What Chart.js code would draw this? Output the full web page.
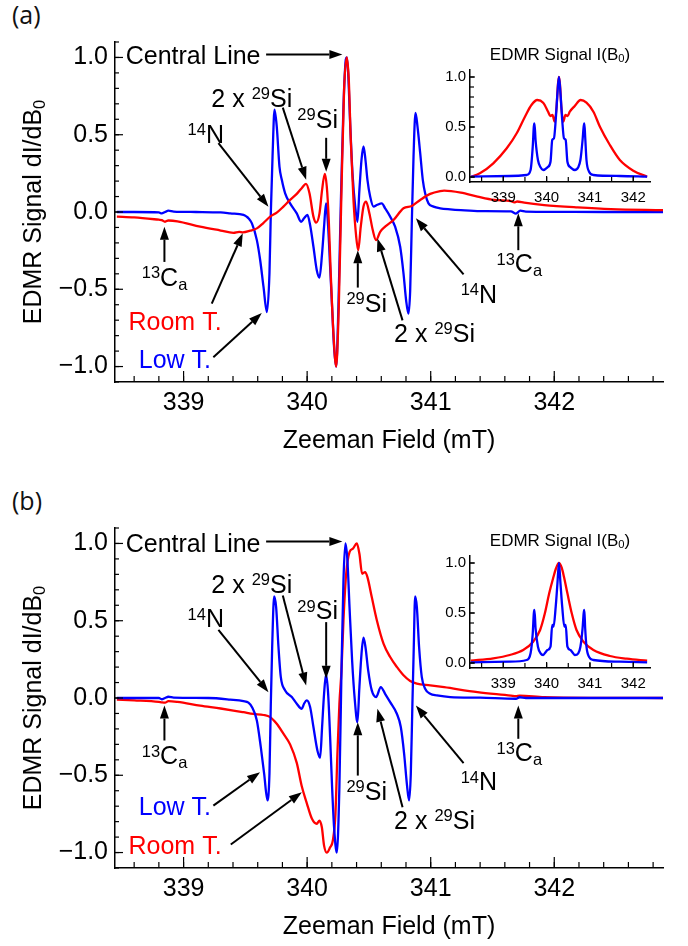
<!DOCTYPE html>
<html>
<head>
<meta charset="utf-8">
<script src="https://cdn.jsdelivr.net/npm/chart.js@4.4.1/dist/chart.umd.min.js"></script>
<style>
  body { margin: 0; background: #fff; }
  #wrap { position: relative; width: 688px; height: 946px; overflow: hidden; }
  #wrap canvas { position: absolute; }
  .tag { position: absolute; font: 25px "Open Sans", sans-serif; color: #111; line-height: 1; }
</style>
</head>
<body>
<div id="wrap">
  <div class="tag" style="left:12px;top:2px">(a)</div>
  <div class="tag" style="left:12px;top:488px">(b)</div>
  <canvas id="mainA" width="688" height="486" style="left:0;top:0"></canvas>
  <canvas id="mainB" width="688" height="460" style="left:0;top:486px"></canvas>
  <canvas id="insetA" width="240" height="190" style="left:420px;top:30px"></canvas>
  <canvas id="insetB" width="240" height="190" style="left:420px;top:516px"></canvas>
</div>
<script>
// ---- data: derivative spectra dI/dB0, panel (a) ----
const aLowB = [338.46, 338.6, 338.8, 338.823, 338.85, 338.877, 338.92, 339.1, 339.3, 339.377, 339.485, 339.51, 339.525, 339.553, 339.593, 339.62, 339.647, 339.674, 339.695, 339.706, 339.72, 339.736, 339.754, 339.776, 339.795, 339.822, 339.862, 339.916, 339.951, 339.975, 340.002, 340.024, 340.051, 340.078, 340.1, 340.121, 340.137, 340.153, 340.17, 340.186, 340.202, 340.218, 340.235, 340.253, 340.272, 340.294, 340.313, 340.321, 340.332, 340.348, 340.367, 340.389, 340.407, 340.423, 340.44, 340.456, 340.472, 340.488, 340.51, 340.537, 340.564, 340.604, 340.631, 340.672, 340.712, 340.753, 340.78, 340.801, 340.82, 340.834, 340.847, 340.861, 340.877, 340.893, 340.915, 340.936, 340.955, 340.982, 341.023, 341.077, 341.158, 341.244, 341.4, 341.649, 341.69, 341.725, 341.77, 342.0, 342.4, 342.88];
const aLowS = [0, 0, -0.003, -0.009, 0, 0.009, 0.003, 0, -0.003, -0.009, -0.019, -0.03, -0.04, -0.074, -0.182, -0.312, -0.485, -0.647, -0.398, -0.009, 0.359, 0.662, 0.554, 0.294, 0.208, 0.121, 0.056, -0.009, -0.063, -0.041, -0.019, -0.084, -0.225, -0.377, -0.424, -0.268, -0.095, 0.056, -0.095, -0.355, -0.615, -0.874, -1.0, -0.615, 0.035, 0.684, 0.987, 1.0, 0.9, 0.576, 0.251, 0.035, -0.063, 0.143, 0.338, 0.424, 0.338, 0.208, 0.1, 0.035, 0.045, 0.056, 0.024, -0.03, -0.095, -0.225, -0.398, -0.571, -0.658, -0.506, -0.074, 0.359, 0.641, 0.554, 0.381, 0.208, 0.121, 0.056, 0.035, 0.024, 0.017, 0.012, 0.006, 0.004, -0.01, 0.009, 0.003, 0.001, 0, 0];
const aRoomB = [338.46, 338.6, 338.8, 338.823, 338.85, 338.877, 338.95, 339.134, 339.3, 339.403, 339.45, 339.48, 339.539, 339.593, 339.647, 339.701, 339.754, 339.808, 339.862, 339.916, 339.956, 339.991, 340.019, 340.051, 340.073, 340.1, 340.121, 340.143, 340.159, 340.175, 340.191, 340.213, 340.235, 340.256, 340.278, 340.299, 340.321, 340.337, 340.353, 340.375, 340.397, 340.413, 340.434, 340.456, 340.477, 340.504, 340.531, 340.558, 340.591, 340.631, 340.699, 340.78, 340.847, 340.915, 340.996, 341.077, 341.109, 341.244, 341.379, 341.514, 341.65, 341.676, 341.7, 341.757, 341.919, 342.189, 342.459, 342.88];
const aRoomS = [-0.03, -0.035, -0.05, -0.052, -0.063, -0.055, -0.06, -0.095, -0.12, -0.135, -0.128, -0.132, -0.121, -0.106, -0.07, -0.03, -0.004, 0.035, 0.078, 0.117, 0.154, 0.182, 0.121, -0.03, -0.069, -0.009, 0.143, 0.247, 0.165, -0.052, -0.398, -0.788, -1.0, -0.615, 0.143, 0.792, 1.0, 0.857, 0.468, 0.078, -0.16, -0.247, -0.095, 0.035, 0.067, -0.009, -0.117, -0.182, -0.128, -0.095, -0.052, 0.024, 0.039, 0.078, 0.117, 0.135, 0.138, 0.125, 0.099, 0.078, 0.07, 0.062, 0.068, 0.06, 0.045, 0.03, 0.019, 0.012];

// ---- panel (b) ----
const bLowB = [338.46, 338.8, 338.823, 338.85, 338.877, 338.92, 339.2, 339.377, 339.485, 339.525, 339.553, 339.593, 339.625, 339.652, 339.679, 339.695, 339.706, 339.717, 339.733, 339.749, 339.768, 339.787, 339.822, 339.876, 339.916, 339.956, 339.975, 339.997, 340.024, 340.051, 340.083, 340.105, 340.121, 340.137, 340.153, 340.17, 340.186, 340.202, 340.218, 340.24, 340.261, 340.278, 340.294, 340.31, 340.326, 340.343, 340.364, 340.386, 340.407, 340.423, 340.44, 340.456, 340.472, 340.494, 340.523, 340.558, 340.596, 340.631, 340.672, 340.726, 340.758, 340.785, 340.807, 340.825, 340.839, 340.852, 340.863, 340.874, 340.888, 340.906, 340.928, 340.955, 340.996, 341.05, 341.158, 341.4, 341.69, 341.72, 341.77, 342.88];
const bLowS = [0, 0, -0.008, 0, 0.008, 0.002, 0, -0.01, -0.02, -0.03, -0.058, -0.145, -0.318, -0.49, -0.663, -0.49, -0.037, 0.33, 0.657, 0.588, 0.33, 0.135, 0.049, 0.006, -0.037, -0.07, -0.037, -0.016, -0.058, -0.188, -0.339, -0.386, -0.188, 0.027, 0.152, 0.027, -0.253, -0.577, -0.836, -1.0, -0.577, 0.179, 0.762, 1.0, 0.89, 0.588, 0.243, -0.016, -0.157, 0.071, 0.286, 0.39, 0.33, 0.179, 0.049, 0.006, 0.071, 0.027, -0.027, -0.102, -0.188, -0.361, -0.555, -0.663, -0.49, -0.037, 0.33, 0.657, 0.588, 0.33, 0.135, 0.06, 0.027, 0.017, 0.006, 0.002, -0.005, 0.005, 0, 0];
const bRoomB = [338.46, 338.6, 338.8, 338.823, 338.85, 338.877, 338.95, 339.134, 339.3, 339.403, 339.485, 339.565, 339.647, 339.701, 339.754, 339.808, 339.862, 339.916, 339.956, 339.997, 340.038, 340.078, 340.1, 340.119, 340.137, 340.159, 340.186, 340.208, 340.229, 340.245, 340.261, 340.278, 340.294, 340.316, 340.343, 340.37, 340.402, 340.423, 340.445, 340.469, 340.488, 340.523, 340.564, 340.618, 340.672, 340.726, 340.78, 340.834, 340.888, 340.996, 341.109, 341.379, 341.649, 341.69, 341.72, 341.919, 342.4, 342.88];
const bRoomS = [-0.01, -0.015, -0.025, -0.028, -0.03, -0.02, -0.025, -0.049, -0.068, -0.081, -0.092, -0.103, -0.11, -0.124, -0.167, -0.231, -0.3, -0.42, -0.57, -0.68, -0.78, -0.814, -0.793, -0.836, -0.955, -1.0, -0.966, -0.922, -0.75, -0.361, -0.037, 0.179, 0.503, 0.804, 0.944, 0.966, 1.0, 0.933, 0.804, 0.815, 0.782, 0.653, 0.503, 0.352, 0.265, 0.201, 0.147, 0.11, 0.093, 0.082, 0.07, 0.038, 0.016, 0.012, 0.016, 0.005, 0.001, 0];

// ---- insets: integrated signal I(B0) ----
const aLowIB = [338.25, 339.15, 339.54, 339.63, 339.68, 339.705, 339.72, 339.745, 339.8, 339.86, 339.92, 340.02, 340.09, 340.13, 340.17, 340.21, 340.25, 340.285, 340.32, 340.36, 340.4, 340.44, 340.48, 340.55, 340.65, 340.73, 340.78, 340.83, 340.855, 340.87, 340.89, 340.92, 340.98, 341.08, 341.69, 342.32];
const aLowI = [0.003, 0.01, 0.02, 0.07, 0.303, 0.503, 0.537, 0.37, 0.17, 0.097, 0.07, 0.097, 0.153, 0.37, 0.387, 0.57, 0.837, 1.0, 0.837, 0.57, 0.387, 0.37, 0.153, 0.097, 0.07, 0.097, 0.17, 0.37, 0.503, 0.537, 0.403, 0.17, 0.053, 0.02, 0.01, 0.003];
const aRoomIB = [338.25, 338.46, 338.77, 339.08, 339.31, 339.5, 339.65, 339.785, 339.92, 340.035, 340.085, 340.135, 340.185, 340.23, 340.26, 340.285, 340.31, 340.34, 340.385, 340.435, 340.485, 340.535, 340.65, 340.785, 340.92, 341.08, 341.23, 341.46, 341.69, 342.0, 342.32];
const aRoomI = [0, 0.037, 0.137, 0.287, 0.437, 0.603, 0.72, 0.77, 0.743, 0.653, 0.61, 0.62, 0.553, 0.7, 0.92, 1.0, 0.92, 0.7, 0.553, 0.62, 0.61, 0.653, 0.71, 0.77, 0.743, 0.653, 0.503, 0.32, 0.17, 0.063, 0.003];
const bLowIB = [338.25, 339.15, 339.54, 339.63, 339.68, 339.705, 339.72, 339.745, 339.8, 339.86, 339.92, 339.98, 340.02, 340.09, 340.13, 340.16, 340.21, 340.25, 340.285, 340.32, 340.36, 340.41, 340.44, 340.48, 340.55, 340.59, 340.65, 340.73, 340.78, 340.83, 340.855, 340.87, 340.89, 340.92, 340.98, 341.08, 341.69, 342.32];
const bLowI = [0.007, 0.013, 0.03, 0.097, 0.297, 0.497, 0.53, 0.347, 0.163, 0.097, 0.08, 0.11, 0.13, 0.163, 0.38, 0.363, 0.563, 0.797, 1.0, 0.797, 0.563, 0.363, 0.38, 0.163, 0.13, 0.11, 0.08, 0.097, 0.163, 0.347, 0.497, 0.53, 0.347, 0.163, 0.06, 0.03, 0.013, 0.007];
const bRoomIB = [338.25, 338.77, 339.15, 339.46, 339.69, 339.85, 339.96, 340.06, 340.15, 340.22, 340.285, 340.35, 340.4, 340.48, 340.58, 340.69, 340.85, 341.08, 341.46, 341.85, 342.32];
const bRoomI = [0.023, 0.047, 0.08, 0.13, 0.213, 0.33, 0.497, 0.697, 0.847, 0.95, 1.0, 0.95, 0.863, 0.697, 0.497, 0.33, 0.213, 0.13, 0.07, 0.043, 0.023];

// ---- tick labels ----
const fieldTicks = [339, 340, 341, 342];
const signalTicks = [-1, -0.5, 0, 0.5, 1];
const insetTicks = [0, 0.5, 1];

const FONT = '"Liberation Sans", Arial, sans-serif';
const RED = '#ff0000', BLUE = '#0000ff';

function pts(xs, ys) { return xs.map((x, i) => ({ x: x, y: ys[i] })); }
function fmt(v) { return v.toFixed(1).replace('-', '\u2212'); }
function range(a, b, s) { const r = []; for (let v = a; v <= b + 1e-9; v += s) r.push(+v.toFixed(3)); return r; }

// rich text: parts = [[text, ''|'sup'|'sub'], ...]; (cx, cy) = centre of the capitals
function drawRich(ctx, parts, cx, cy, size, color) {
    const small = size * 0.66;
    let w = 0;
    parts.forEach(p => {
        ctx.font = (p[1] ? small : size) + 'px ' + FONT;
        w += ctx.measureText(p[0]).width;
    });
    let x = cx - w / 2;
    const base = cy + size * 0.358;
    ctx.fillStyle = color;
    ctx.textAlign = 'left';
    ctx.textBaseline = 'alphabetic';
    parts.forEach(p => {
        ctx.font = (p[1] ? small : size) + 'px ' + FONT;
        const dy = p[1] === 'sup' ? -size * 0.3 : p[1] === 'sub' ? size * 0.15 : 0;
        ctx.fillText(p[0], x, base + dy);
        x += ctx.measureText(p[0]).width;
    });
}

function arrow(ctx, x0, y0, x1, y1) {
    const ang = Math.atan2(y1 - y0, x1 - x0), L = 13, W = 4.5;
    const bx = x1 - L * Math.cos(ang), by = y1 - L * Math.sin(ang);
    ctx.beginPath(); ctx.moveTo(x0, y0); ctx.lineTo(bx, by); ctx.stroke();
    ctx.beginPath();
    ctx.moveTo(x1, y1);
    ctx.lineTo(bx + W * Math.sin(ang), by - W * Math.cos(ang));
    ctx.lineTo(bx - W * Math.sin(ang), by + W * Math.cos(ang));
    ctx.closePath(); ctx.fill();
}

// inward ticks, axis titles and the arrow labels
function decor(cfg) {
    return {
        id: 'decor',
        afterDatasetsDraw(chart) {
            const { ctx, chartArea: a, scales: { x, y } } = chart;
            ctx.save();
            ctx.strokeStyle = '#000';
            ctx.lineWidth = 1.2;
            const tick = (list, len, horiz) => list.forEach(v => {
                ctx.beginPath();
                if (horiz) { const p = x.getPixelForValue(v); ctx.moveTo(p, a.bottom); ctx.lineTo(p, a.bottom - len); }
                else { const p = y.getPixelForValue(v); ctx.moveTo(a.left, p); ctx.lineTo(a.left + len, p); }
                ctx.stroke();
            });
            tick(cfg.xMinor, cfg.xMinLen, true);
            tick(cfg.xMajor, cfg.xMajLen, true);
            tick(cfg.yMinor, cfg.yMinLen, false);
            tick(cfg.yMajor, cfg.yMajLen, false);

            if (cfg.xTitle) drawRich(ctx, cfg.xTitle, (a.left + a.right) / 2, a.bottom + cfg.xTitleGap, cfg.size, '#000');
            if (cfg.yTitle) {
                ctx.save();
                ctx.translate(cfg.yTitleX, (a.top + a.bottom) / 2);
                ctx.rotate(-Math.PI / 2);
                drawRich(ctx, cfg.yTitle, 0, 0, cfg.size, '#000');
                ctx.restore();
            }
            if (cfg.title) drawRich(ctx, cfg.title, (a.left + a.right) / 2, a.top - cfg.titleGap, cfg.titleSize, '#000');

            ctx.strokeStyle = '#000';
            ctx.fillStyle = '#000';
            ctx.lineWidth = 2;
            (cfg.notes || []).forEach(n => {
                drawRich(ctx, n.t, x.getPixelForValue(n.x), y.getPixelForValue(n.y), cfg.size, n.c || '#000');
                if (n.ar) {
                    ctx.fillStyle = '#000';
                    arrow(ctx, x.getPixelForValue(n.ar[0]), y.getPixelForValue(n.ar[1]),
                        x.getPixelForValue(n.ar[2]), y.getPixelForValue(n.ar[3]));
                }
            });
            ctx.restore();
        }
    };
}

function line(data, color) {
    return { data: data, borderColor: color, borderWidth: 2.3, pointRadius: 0, fill: false, cubicInterpolationMode: 'monotone' };
}

function mainChart(id, H, sets, notes) {
    new Chart(document.getElementById(id), {
        type: 'line',
        data: { datasets: sets },
        options: {
            responsive: false, animation: false, events: [],
            layout: { padding: { left: 0, top: 42, right: 25, bottom: 0 } },
            plugins: { legend: { display: false }, tooltip: { enabled: false } },
            scales: {
                x: {
                    type: 'linear', min: 338.445, max: 342.88,
                    grid: { display: false, drawTicks: false },
                    border: { color: '#000', width: 1.5 },
                    afterBuildTicks: s => { s.ticks = fieldTicks.map(v => ({ value: v })); },
                    afterFit: s => { s.height = H - 382; },
                    ticks: { color: '#000', font: { family: FONT, size: 25 }, padding: 6, maxRotation: 0, autoSkip: false, callback: v => String(v) }
                },
                y: {
                    type: 'linear', min: -1.1, max: 1.1,
                    grid: { display: false, drawTicks: false },
                    border: { color: '#000', width: 1.5 },
                    afterBuildTicks: s => { s.ticks = signalTicks.map(v => ({ value: v })); },
                    afterFit: s => { s.width = 115; },
                    ticks: { color: '#000', font: { family: FONT, size: 25 }, padding: 7, autoSkip: false, callback: v => fmt(v) }
                }
            }
        },
        plugins: [decor({
            size: 25,
            xMajor: fieldTicks, xMajLen: 11, xMinor: range(338.6, 342.8, 0.2), xMinLen: 6,
            yMajor: signalTicks, yMajLen: 8, yMinor: range(-1.1, 1.1, 0.1), yMinLen: 4,
            xTitle: [['Zeeman Field (mT)', '']], xTitleGap: 57,
            yTitle: [['EDMR Signal dI/dB', ''], ['0', 'sub']], yTitleX: 32.5,
            notes: notes
        })]
    });
}

function insetChart(id, sets) {
    new Chart(document.getElementById(id), {
        type: 'line',
        data: { datasets: sets },
        options: {
            responsive: false, animation: false, events: [],
            layout: { padding: { left: 0, top: 40, right: 10, bottom: 0 } },
            plugins: { legend: { display: false }, tooltip: { enabled: false } },
            scales: {
                x: {
                    type: 'linear', min: 338.232, max: 342.386,
                    grid: { display: false, drawTicks: false },
                    border: { color: '#000', width: 1.5 },
                    afterBuildTicks: s => { s.ticks = fieldTicks.map(v => ({ value: v })); },
                    afterFit: s => { s.height = 38; },
                    ticks: { color: '#000', font: { family: FONT, size: 15 }, padding: 7, maxRotation: 0, autoSkip: false, callback: v => String(v) }
                },
                y: {
                    type: 'linear', min: -0.05, max: 1.07,
                    grid: { display: false, drawTicks: false },
                    border: { color: '#000', width: 1.5 },
                    afterBuildTicks: s => { s.ticks = insetTicks.map(v => ({ value: v })); },
                    afterFit: s => { s.width = 50; },
                    ticks: { color: '#000', font: { family: FONT, size: 15 }, padding: 4, autoSkip: false, callback: v => v.toFixed(1) }
                }
            }
        },
        plugins: [decor({
            size: 15,
            xMajor: fieldTicks, xMajLen: 6, xMinor: range(338.5, 342, 0.5), xMinLen: 5,
            yMajor: insetTicks, yMajLen: 5, yMinor: range(0, 1, 0.1), yMinLen: 4,
            title: [['EDMR Signal I(B', ''], ['0', 'sub'], [')', '']], titleGap: 16.5, titleSize: 17
        })]
    });
}

const sup = (s) => [s, 'sup'];
const notesA = [
    { t: [['Central Line', '']], x: 339.077, y: 1.013, ar: [339.668, 1.019, 340.285, 1.019] },
    { t: [['2 x ', ''], sup('29'), ['Si', '']], x: 339.552, y: 0.738, ar: [339.803, 0.675, 339.992, 0.208] },
    { t: [sup('29'), ['Si', '']], x: 340.085, y: 0.603, ar: [340.154, 0.48, 340.154, 0.26] },
    { t: [sup('14'), ['N', '']], x: 339.18, y: 0.506, ar: [339.282, 0.446, 339.687, 0.034] },
    { t: [sup('13'), ['C', ''], ['a', 'sub']], x: 338.846, y: -0.42, ar: [338.845, -0.323, 338.845, -0.095] },
    { t: [['Room T.', '']], x: 338.931, y: -0.706, c: RED, ar: [339.228, -0.593, 339.479, -0.138] },
    { t: [['Low T.', '']], x: 338.93, y: -0.95, c: BLUE, ar: [339.241, -0.94, 339.633, -0.654] },
    { t: [sup('29'), ['Si', '']], x: 340.482, y: -0.586, ar: [340.41, -0.489, 340.41, -0.247] },
    { t: [['2 x ', ''], sup('29'), ['Si', '']], x: 341.031, y: -0.782, ar: [340.772, -0.701, 340.569, -0.171] },
    { t: [sup('14'), ['N', '']], x: 341.39, y: -0.53, ar: [341.266, -0.403, 340.88, -0.041] },
    { t: [sup('13'), ['C', ''], ['a', 'sub']], x: 341.717, y: -0.331, ar: [341.709, -0.247, 341.709, -0.008] }
];
const notesB = [
    { t: [['Central Line', '']], x: 339.077, y: 1.003, ar: [339.668, 1.013, 340.285, 1.013] },
    { t: [['2 x ', ''], sup('29'), ['Si', '']], x: 339.552, y: 0.739, ar: [339.803, 0.663, 339.992, 0.081] },
    { t: [sup('29'), ['Si', '']], x: 340.085, y: 0.566, ar: [340.154, 0.491, 340.154, 0.124] },
    { t: [sup('14'), ['N', '']], x: 339.18, y: 0.515, ar: [339.282, 0.441, 339.687, 0.038] },
    { t: [sup('13'), ['C', ''], ['a', 'sub']], x: 338.846, y: -0.37, ar: [338.845, -0.275, 338.845, -0.049] },
    { t: [['Low T.', '']], x: 338.93, y: -0.7, c: BLUE, ar: [339.241, -0.696, 339.619, -0.48] },
    { t: [['Room T.', '']], x: 338.931, y: -0.95, c: RED, ar: [339.382, -0.948, 339.957, -0.61] },
    { t: [sup('29'), ['Si', '']], x: 340.482, y: -0.599, ar: [340.41, -0.502, 340.41, -0.157] },
    { t: [['2 x ', ''], sup('29'), ['Si', '']], x: 341.031, y: -0.789, ar: [340.772, -0.707, 340.569, -0.07] },
    { t: [sup('14'), ['N', '']], x: 341.39, y: -0.54, ar: [341.266, -0.422, 340.88, -0.049] },
    { t: [sup('13'), ['C', ''], ['a', 'sub']], x: 341.717, y: -0.351, ar: [341.709, -0.264, 341.709, -0.049] }
];

// dataset 0 is painted last (on top)
mainChart('mainA', 486, [line(pts(aRoomB, aRoomS), RED), line(pts(aLowB, aLowS), BLUE)], notesA);
mainChart('mainB', 460, [line(pts(bLowB, bLowS), BLUE), line(pts(bRoomB, bRoomS), RED)], notesB);
insetChart('insetA', [line(pts(aLowIB, aLowI), BLUE), line(pts(aRoomIB, aRoomI), RED)]);
insetChart('insetB', [line(pts(bLowIB, bLowI), BLUE), line(pts(bRoomIB, bRoomI), RED)]);
</script>
</body>
</html>
